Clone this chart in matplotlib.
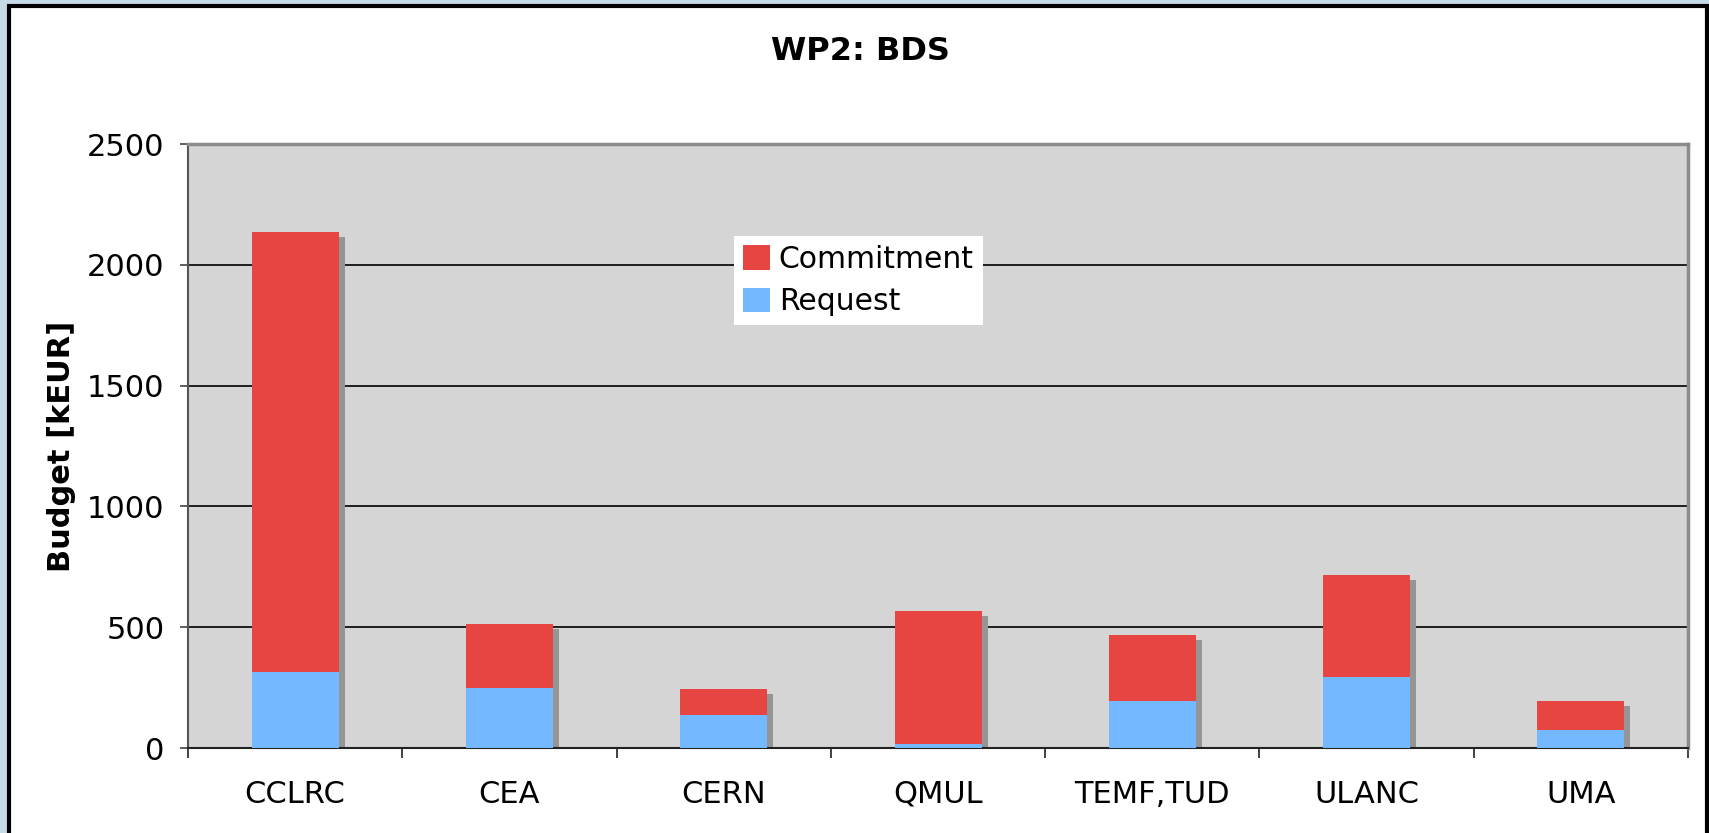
import matplotlib
matplotlib.use("Agg")
import matplotlib.pyplot as plt
from matplotlib.patches import Rectangle, Patch
from matplotlib.transforms import offset_copy
import numpy as np

categories = ["CCLRC", "CEA", "CERN", "QMUL", "TEMF,TUD", "ULANC", "UMA"]
request = [315, 247, 135, 18, 193, 293, 73]
commitment = [1821, 267, 108, 550, 275, 424, 120]
yticks = [0, 500, 1000, 1500, 2000, 2500]

plt.rcParams['font.family'] = ['DejaVu Sans']

W, H = 1709, 833
fig = plt.figure(figsize=(W / 100, H / 100), dpi=100)
fig.patch.set_facecolor('#c6dbe8')

# white chart frame with black border
frame = Rectangle((9 / W, -0.05), (1707 - 9) / W, 1 - 6 / H + 0.05,
                  transform=fig.transFigure, facecolor='white',
                  edgecolor='black', linewidth=3, zorder=-10)
fig.patches.append(frame)

ax = fig.add_axes([188 / W, 1 - 748 / H, (1688 - 188) / W, (748 - 144) / H])
ax.set_zorder(1)
ax.set_facecolor('#d5d5d5')

x = np.arange(len(categories))
width = 0.406
totals = np.array(request) + np.array(commitment)

# shadows
shadow_tr = offset_copy(ax.transData, fig=fig, x=6, y=-5, units='dots')
ax.bar(x, totals, width=width, color='#959595', transform=shadow_tr, zorder=2,
       linewidth=0)
ax.bar(x, request, width=width, color='#74b9ff', zorder=3, linewidth=0,
       label='Request')
ax.bar(x, commitment, bottom=request, width=width, color='#e64541', zorder=3,
       linewidth=0, label='Commitment')

ax.set_ylim(0, 2500)
ax.set_xlim(-0.5, len(categories) - 0.5)
ax.set_yticks(yticks)
ax.set_yticklabels([str(v) for v in yticks])
ax.yaxis.grid(True, color='black', linewidth=1.2, zorder=1)
ax.set_axisbelow(True)

ax.set_xticks(x)
ax.set_xticklabels(categories)
ax.set_xticks(np.arange(-0.5, len(categories)), minor=True)
ax.tick_params(axis='x', which='major', length=0, pad=39.5, labelsize=22)
for lab in ax.get_xticklabels():
    lab.set_verticalalignment('baseline')
ax.tick_params(axis='x', which='minor', length=7, width=1.2, color='#222222',
               direction='out')
ax.tick_params(axis='y', length=6, width=1.2, pad=11, labelsize=22,
               color='#444444')

for side in ['top', 'right']:
    ax.spines[side].set_color('#8c8c8c')
    ax.spines[side].set_linewidth(2.5)
ax.spines['left'].set_color('#555555')
ax.spines['left'].set_linewidth(1.5)
ax.spines['bottom'].set_color('#222222')
ax.spines['bottom'].set_linewidth(1.5)

ax.set_ylabel('Budget [kEUR]', fontsize=22, fontweight='bold')
ax.yaxis.set_label_coords((76 - 188) / 1500, 0.5)

fig.text(860 / W, 1 - 52 / H, 'WP2: BDS', fontsize=23, fontweight='bold',
         ha='center', va='center')

handles = [Patch(facecolor='#e64541', label='Commitment'),
           Patch(facecolor='#74b9ff', label='Request')]
leg = ax.legend(handles=handles, loc='upper left',
                bbox_to_anchor=((734 - 188) / 1500, (748 - 236) / 604),
                frameon=True, fontsize=21.5, fancybox=False, framealpha=1,
                edgecolor='white', borderpad=0.3, handlelength=0.9,
                handleheight=0.9, handletextpad=0.3, labelspacing=0.45,
                borderaxespad=0)
leg.get_frame().set_linewidth(0)

fig.savefig('out.png', dpi=100, facecolor=fig.get_facecolor())
